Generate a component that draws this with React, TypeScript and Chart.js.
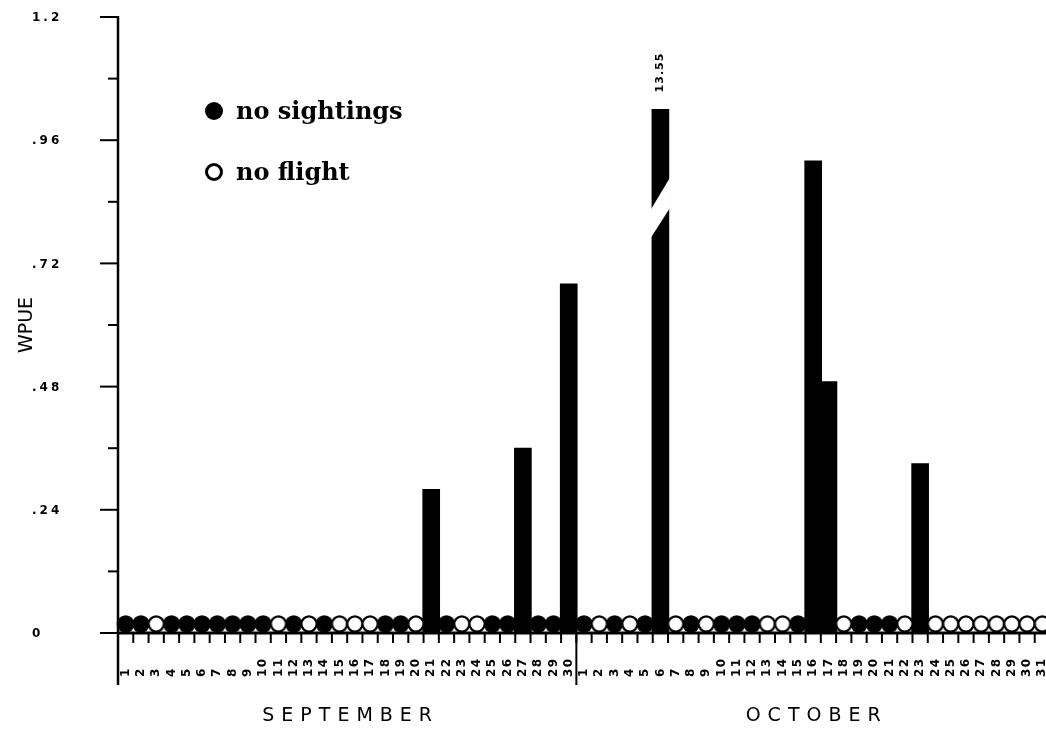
import { useEffect, useRef } from 'react'
import { Chart, registerables } from 'chart.js'

Chart.register(...registerables);

// days with no sightings (filled circle) / no flight (open circle) / WPUE bars
const sepNoSightings = [1, 2, 4, 5, 6, 7, 8, 9, 10, 12, 14, 18, 19, 22, 25, 26, 28, 29];
const sepNoFlight = [3, 11, 13, 15, 16, 17, 20, 23, 24];
const sepBarDays = [21, 27, 30];
const sepBarValues = [0.28, 0.36, 0.68];

const octNoSightings = [1, 3, 5, 8, 10, 11, 12, 15, 19, 20, 21];
const octNoFlight = [2, 4, 7, 9, 13, 14, 18, 22, 24, 25, 26, 27, 28, 29, 30, 31];
const octBarDays = [6, 16, 17, 23];
const octBarValues = [13.55, 0.92, 0.49, 0.33];

const months = ['SEPTEMBER', 'OCTOBER'];
const monthLengths = [30, 31];

const yTicks = [0, 0.24, 0.48, 0.72, 0.96, 1.2];
const yTickLabels = ['0', '.24', '.48', '.72', '.96', '1.2'];
const yMax = 1.2;
const breakCap = 1.02; // off-scale bars are cut at this height and get a break mark

const legendItems = ['no sightings', 'no flight'];

function buildSeries() {
  const labels: string[] = [];
  const dayText: string[] = [];
  const bars: (number | null)[] = [];
  const raw: (number | null)[] = [];
  const sight: (number | null)[] = [];
  const flight: (number | null)[] = [];
  const groups = [
    { ns: sepNoSightings, nf: sepNoFlight, bd: sepBarDays, bv: sepBarValues },
    { ns: octNoSightings, nf: octNoFlight, bd: octBarDays, bv: octBarValues },
  ];
  groups.forEach((g, m) => {
    for (let d = 1; d <= monthLengths[m]; d++) {
      labels.push(`${months[m]} ${d}`);
      dayText.push(String(d));
      const bi = g.bd.indexOf(d);
      raw.push(bi >= 0 ? g.bv[bi] : null);
      bars.push(bi >= 0 ? Math.min(g.bv[bi], breakCap) : null);
      sight.push(g.ns.includes(d) ? 0 : null);
      flight.push(g.nf.includes(d) ? 0 : null);
    }
  });
  return { labels, dayText, bars, raw, sight, flight };
}

function circleImage(filled: boolean) {
  // circle sits in the top half so that, centred on y = 0, it rests on the axis
  const c = document.createElement('canvas');
  c.width = 20;
  c.height = 38;
  const g = c.getContext('2d')!;
  g.beginPath();
  if (filled) {
    g.arc(10, 10, 8.8, 0, Math.PI * 2);
    g.fillStyle = '#000';
    g.fill();
  } else {
    g.arc(10, 10, 7.6, 0, Math.PI * 2);
    g.fillStyle = '#fff';
    g.fill();
    g.lineWidth = 2.2;
    g.strokeStyle = '#000';
    g.stroke();
  }
  return c;
}

export default function App() {
  const canvasRef = useRef<HTMLCanvasElement>(null);
  const chartRef = useRef<Chart | null>(null);

  useEffect(() => {
    if (!canvasRef.current) return;
    chartRef.current?.destroy();
    const s = buildSeries();

    const decor = {
      id: 'decor',
      afterDatasetsDraw(chart: any) {
        const ctx: CanvasRenderingContext2D = chart.ctx;
        const x = chart.scales.x;
        const y = chart.scales.y;
        const area = chart.chartArea;
        const y0 = y.getPixelForValue(0);
        const step = x.getPixelForValue(1) - x.getPixelForValue(0);
        ctx.save();

        // break mark on off-scale bars
        const meta = chart.getDatasetMeta(0);
        s.raw.forEach((v, i) => {
          if (v === null || v <= yMax) return;
          const el = meta.data[i];
          const l = el.x - el.width / 2 - 1;
          const r = el.x + el.width / 2 + 1;
          ctx.fillStyle = '#fff';
          ctx.beginPath();
          ctx.moveTo(l, y.getPixelForValue(0.825));
          ctx.lineTo(r, y.getPixelForValue(0.887));
          ctx.lineTo(r, y.getPixelForValue(0.828));
          ctx.lineTo(l, y.getPixelForValue(0.77));
          ctx.closePath();
          ctx.fill();
          // value label above the bar
          ctx.save();
          ctx.translate(el.x, y.getPixelForValue(breakCap) - 17);
          ctx.rotate(-Math.PI / 2);
          ctx.fillStyle = '#000';
          ctx.font = 'bold 11px "DejaVu Sans"';
          ctx.textAlign = 'left';
          ctx.textBaseline = 'middle';
          (ctx as any).letterSpacing = '1px';
          ctx.fillText(v.toFixed(2), 0, 0);
          ctx.restore();
        });

        ctx.strokeStyle = '#000';
        ctx.fillStyle = '#000';

        // y axis
        ctx.lineWidth = 2.5;
        ctx.beginPath();
        ctx.moveTo(area.left, y.getPixelForValue(yMax) - 1);
        ctx.lineTo(area.left, y0 + 52);
        ctx.stroke();
        ctx.lineWidth = 2;
        yTicks.forEach((t, i) => {
          const py = y.getPixelForValue(t);
          ctx.beginPath();
          ctx.moveTo(area.left - 18, py);
          ctx.lineTo(area.left, py);
          ctx.stroke();
          if (i < yTicks.length - 1) {
            const my = y.getPixelForValue((t + yTicks[i + 1]) / 2);
            ctx.beginPath();
            ctx.moveTo(area.left - 10, my);
            ctx.lineTo(area.left, my);
            ctx.stroke();
          }
          ctx.font = 'bold 12px "DejaVu Sans"';
          (ctx as any).letterSpacing = '3px';
          ctx.textAlign = 'left';
          ctx.textBaseline = 'middle';
          ctx.fillText(yTickLabels[i], 32, py + 1);
        });

        // x axis
        ctx.lineWidth = 3;
        ctx.beginPath();
        ctx.moveTo(area.left, y0);
        ctx.lineTo(chart.width, y0);
        ctx.stroke();

        // day ticks at day boundaries, day numbers under each day
        ctx.lineWidth = 2;
        ctx.font = 'bold 12px "DejaVu Sans"';
        (ctx as any).letterSpacing = '1.5px';
        s.dayText.forEach((d, i) => {
          const cx = x.getPixelForValue(i);
          const bx = cx + step / 2;
          ctx.beginPath();
          ctx.moveTo(bx, y0);
          ctx.lineTo(bx, y0 + 10);
          ctx.stroke();
          ctx.save();
          ctx.translate(cx, y0 + 44);
          ctx.rotate(-Math.PI / 2);
          ctx.textAlign = 'left';
          ctx.textBaseline = 'middle';
          ctx.fillText(d, 0, 0);
          ctx.restore();
        });

        // month dividers and names
        let start = 0;
        ctx.font = '19px "DejaVu Sans"';
        (ctx as any).letterSpacing = '7px';
        ctx.textAlign = 'center';
        ctx.textBaseline = 'middle';
        months.forEach((m, k) => {
          const left = x.getPixelForValue(start) - step / 2;
          const right = x.getPixelForValue(start + monthLengths[k] - 1) + step / 2;
          if (k > 0) {
            ctx.lineWidth = 2;
            ctx.beginPath();
            ctx.moveTo(left, y0);
            ctx.lineTo(left, y0 + 52);
            ctx.stroke();
          }
          ctx.fillText(m, (left + right) / 2 + 3.5, y0 + 83);
          start += monthLengths[k];
        });

        // y title
        ctx.save();
        ctx.translate(27, (y.getPixelForValue(0) + y.getPixelForValue(yMax)) / 2);
        ctx.rotate(-Math.PI / 2);
        ctx.font = '19px "DejaVu Sans"';
        (ctx as any).letterSpacing = '0px';
        ctx.textAlign = 'center';
        ctx.textBaseline = 'middle';
        ctx.fillText('WPUE', 0, 0);
        ctx.restore();

        // legend
        ctx.font = 'bold 24px "DejaVu Serif"';
        (ctx as any).letterSpacing = '0px';
        ctx.textAlign = 'left';
        ctx.textBaseline = 'alphabetic';
        legendItems.forEach((txt, k) => {
          const ly = 111 + k * 61;
          ctx.beginPath();
          if (k === 0) {
            ctx.arc(214, ly, 9, 0, Math.PI * 2);
            ctx.fill();
          } else {
            ctx.arc(214, ly, 7.5, 0, Math.PI * 2);
            ctx.lineWidth = 3;
            ctx.stroke();
          }
          ctx.fillText(txt, 236, ly + 8);
        });

        ctx.restore();
      },
    };

    chartRef.current = new Chart(canvasRef.current, {
      type: 'bar',
      data: {
        labels: s.labels,
        datasets: [
          {
            type: 'bar',
            data: s.bars,
            backgroundColor: '#000',
            barThickness: 17,
            order: 3,
          },
          {
            type: 'line',
            data: s.sight,
            showLine: false,
            pointStyle: circleImage(true),
            pointRadius: 9,
            clip: false,
            order: 2,
          },
          {
            type: 'line',
            data: s.flight,
            showLine: false,
            pointStyle: circleImage(false),
            pointRadius: 9,
            clip: false,
            order: 1,
          },
        ] as any,
      },
      options: {
        animation: false,
        responsive: true,
        maintainAspectRatio: false,
        layout: { padding: { left: 118, right: 6, top: 17, bottom: 96 } },
        plugins: { legend: { display: false }, tooltip: { enabled: false } },
        scales: {
          x: { display: false, offset: true },
          y: { display: false, min: 0, max: yMax },
        },
      },
      plugins: [decor],
    });

    return () => {
      chartRef.current?.destroy();
      chartRef.current = null;
    };
  }, []);

  return (
    <div style={{ position: 'fixed', left: 0, top: 0, width: '1046px', height: '729px', overflow: 'hidden', background: '#fff' }}>
      <div style={{ width: '1060px', height: '729px' }}>
        <canvas ref={canvasRef} />
      </div>
    </div>
  );
}
